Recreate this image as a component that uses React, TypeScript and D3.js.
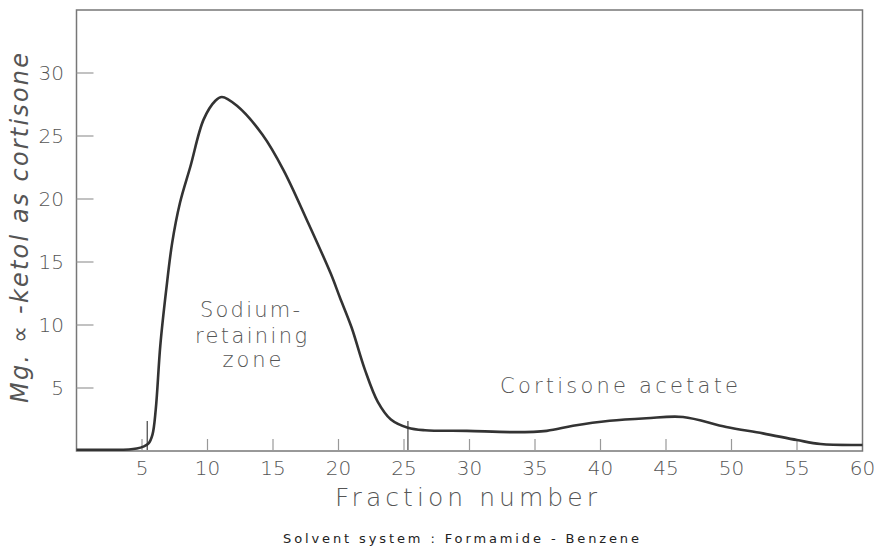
import React from "react";
import * as d3 from "d3";

const fraction = [0, 2, 4, 4.6, 5.1, 5.5, 5.8, 6.05, 6.4, 6.85, 7.3, 7.9, 8.7, 9.7, 10.6, 11.1, 12.25, 14.2, 15.8, 17.6, 19.4, 20.1, 21.0, 22.0, 23.0, 24.0, 25.3, 26.6, 29.8, 33.3, 35.9, 37.9, 40.7, 43.5, 46.3, 49.6, 52.4, 55.0, 56.8, 60];
const ketol = [0.1, 0.1, 0.12, 0.2, 0.35, 0.6, 1.3, 3.3, 8.4, 12.8, 16.5, 19.7, 22.6, 26.3, 27.8, 28.1, 27.4, 25.1, 22.3, 18.3, 14.1, 12.2, 9.8, 6.5, 3.9, 2.5, 1.85, 1.65, 1.6, 1.5, 1.6, 2.0, 2.4, 2.6, 2.7, 1.9, 1.4, 0.87, 0.55, 0.48];

const xTicks = [5, 10, 15, 20, 25, 30, 35, 40, 45, 50, 55, 60];
const yTicks = [5, 10, 15, 20, 25, 30];
const zoneMarkers = [5.4, 25.3];

const W = 890, H = 551;
const m = { left: 76.5, right: 862.5, top: 10, bottom: 451 };

export default function App() {
  const x = d3.scaleLinear().domain([0, 60]).range([m.left, m.right]);
  const y = d3.scaleLinear().domain([0, 35]).range([m.bottom, m.top]);
  const pts = fraction.map((f, i) => [f, ketol[i]] as [number, number]);
  const line = d3.line<[number, number]>().x(d => x(d[0])).y(d => y(d[1])).curve(d3.curveCatmullRom.alpha(0.5));
  const font = "'DejaVu Sans', sans-serif";
  const textFill = "#555";
  return (
    <svg width={W} height={H} style={{ position: "absolute", left: 0, top: 0, background: "#fff" }}>
      <rect x={m.left} y={m.top} width={m.right - m.left} height={m.bottom - m.top} fill="none" stroke="#777" strokeWidth={1.5} />
      {xTicks.filter(t => t < 60).map(t => (
        <line key={"xt" + t} x1={x(t)} x2={x(t)} y1={m.bottom} y2={m.bottom - 12} stroke="#999" strokeWidth={1.2} />
      ))}
      {yTicks.map(t => (
        <line key={"yt" + t} x1={m.left} x2={m.left + 17} y1={y(t)} y2={y(t)} stroke="#999" strokeWidth={1.2} />
      ))}
      {xTicks.map(t => (
        <text key={"xl" + t} x={x(t)} y={475} textAnchor="middle" fontFamily={font} fontSize={20} fontWeight={300} fill={textFill}>{t}</text>
      ))}
      {yTicks.map(t => (
        <text key={"yl" + t} x={64} y={y(t) + 7} textAnchor="end" fontFamily={font} fontSize={20} fontWeight={300} fill={textFill}>{t}</text>
      ))}
      {zoneMarkers.map(t => (
        <line key={"zm" + t} x1={x(t)} x2={x(t)} y1={y(0.08)} y2={y(0.08) - 29} stroke="#444" strokeWidth={1.2} />
      ))}
      <path d={line(pts) || ""} fill="none" stroke="#333" strokeWidth={2.6} strokeLinejoin="round" />
      <text x={466} y={506} textAnchor="middle" fontFamily={font} fontSize={25} fontWeight={300} fill={textFill} textLength={262} lengthAdjust="spacing">Fraction number</text>
      <text x={461} y={543} textAnchor="middle" fontFamily={font} fontSize={13} fill="#222" textLength={356} lengthAdjust="spacing">Solvent system : Formamide - Benzene</text>
      <text transform="translate(28,228) rotate(-90)" textAnchor="middle" fontFamily={font} fontSize={24} fontStyle="italic" fontWeight={300} fill={textFill} textLength={350} lengthAdjust="spacing">Mg. ∝ -ketol as cortisone</text>
      <text x={250} y={317} textAnchor="middle" fontFamily={font} fontSize={21} fontWeight={300} fill={textFill} textLength={100} lengthAdjust="spacing">Sodium-</text>
      <text x={251} y={343} textAnchor="middle" fontFamily={font} fontSize={21} fontWeight={300} fill={textFill} textLength={112} lengthAdjust="spacing">retaining</text>
      <text x={252} y={367} textAnchor="middle" fontFamily={font} fontSize={21} fontWeight={300} fill={textFill} textLength={59} lengthAdjust="spacing">zone</text>
      <text x={619} y={393} textAnchor="middle" fontFamily={font} fontSize={21} fontWeight={300} fill={textFill} textLength={238} lengthAdjust="spacing">Cortisone acetate</text>
    </svg>
  );
}
